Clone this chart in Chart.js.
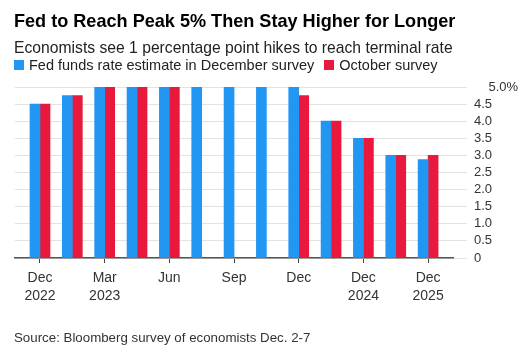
<!DOCTYPE html>
<html>
<head>
<meta charset="utf-8">
<script src="https://cdn.jsdelivr.net/npm/chart.js@4.4.1/dist/chart.umd.min.js"></script>
<style>
  body { margin: 0; background: #fff; font-family: "Liberation Sans", Arial, sans-serif; }
  #wrap { position: relative; width: 528px; height: 353px; overflow: hidden; }
  #chart { position: absolute; left: 0; top: 0; }
  .txt { position: absolute; left: 14px; white-space: nowrap; line-height: 1; }
  #title { top: 12px; font-size: 18.1px; font-weight: bold; color: #000; }
  #subtitle { top: 40px; font-size: 15.7px; color: #222; }
  #legend { top: 58px; font-size: 14.5px; color: #222; }
  #legend span.box { display: inline-block; width: 10px; height: 10px; margin-right: 5px; }
  #source { top: 331px; font-size: 13.3px; color: #333; }
</style>
</head>
<body>
<div id="wrap">
  <canvas id="chart" width="528" height="353"></canvas>
  <div class="txt" id="title">Fed to Reach Peak 5% Then Stay Higher for Longer</div>
  <div class="txt" id="subtitle">Economists see 1 percentage point hikes to reach terminal rate</div>
  <div class="txt" id="legend"><span class="box" style="background:#2196f3"></span>Fed funds rate estimate in December survey<span class="box" style="background:#e8193c;margin-left:10px"></span>October survey</div>
  <div class="txt" id="source">Source: Bloomberg survey of economists Dec. 2-7</div>
</div>
<script>
// Reuniões / períodos do eixo x
const periods = ['Dec 2022', 'Feb 2023', 'Mar 2023', 'May 2023', 'Jun 2023', 'Jul 2023', 'Sep 2023',
  'Nov 2023', 'Dec 2023', 'Jun 2024', 'Dec 2024', 'Jun 2025', 'Dec 2025'];
const decemberSurvey = [4.5, 4.75, 5, 5, 5, 5, 5, 5, 5, 4, 3.5, 3, 2.875];
const octoberSurvey = [4.5, 4.75, 5, 5, 5, null, null, null, 4.75, 4, 3.5, 3, 3];

// Rótulos do eixo x (posição = índice do período)
const tickPos = [0, 2, 4, 6, 8, 10, 12];
const tickText = [['Dec', '2022'], ['Mar', '2023'], ['Jun'], ['Sep'], ['Dec'], ['Dec', '2024'], ['Dec', '2025']];

const blue = '#2196f3';
const red = '#e8193c';

function toPoints(values) {
  return values.map((v, i) => ({ x: i, y: v }));
}

const ctx = document.getElementById('chart').getContext('2d');
const myChart = new Chart(ctx, {
  type: 'bar',
  data: {
    datasets: [
      { label: 'Fed funds rate estimate in December survey', data: toPoints(decemberSurvey), backgroundColor: blue, barThickness: 10 },
      { label: 'October survey', data: toPoints(octoberSurvey), backgroundColor: red, barThickness: 10 }
    ]
  },
  options: {
    responsive: false,
    animation: false,
    layout: { padding: { left: 15, top: 87, bottom: 35, right: 0 } },
    plugins: { legend: { display: false }, tooltip: { enabled: false } },
    scales: {
      x: {
        type: 'linear',
        min: -0.773,
        max: 12.77,
        offset: false,
        afterBuildTicks: (s) => { s.ticks = tickPos.map(v => ({ value: v })); },
        afterFit: (s) => { s.height = 60; },
        ticks: {
          autoSkip: false,
          maxRotation: 0,
          padding: 6,
          color: '#333',
          font: { family: '"Liberation Sans", Arial, sans-serif', size: 14, lineHeight: 1.3 },
          callback: (v) => tickText[tickPos.indexOf(v)]
        },
        grid: { offset: false, drawOnChartArea: false, tickLength: 5, color: '#444' },
        border: { display: true, color: '#555', width: 1.5 }
      },
      y: {
        position: 'right',
        min: 0,
        max: 5,
        afterFit: (s) => { s.width = 75; },
        ticks: {
          autoSkip: false,
          stepSize: 0.5,
          padding: 7,
          color: '#333',
          font: { family: '"Liberation Sans", Arial, sans-serif', size: 13 },
          callback: (v) => v === 5 ? '    5.0%' : (v === 0 ? '0' : v.toFixed(1))
        },
        grid: { color: '#e3e3e3', tickLength: 14 },
        border: { display: false }
      }
    }
  }
});
</script>
</body>
</html>
